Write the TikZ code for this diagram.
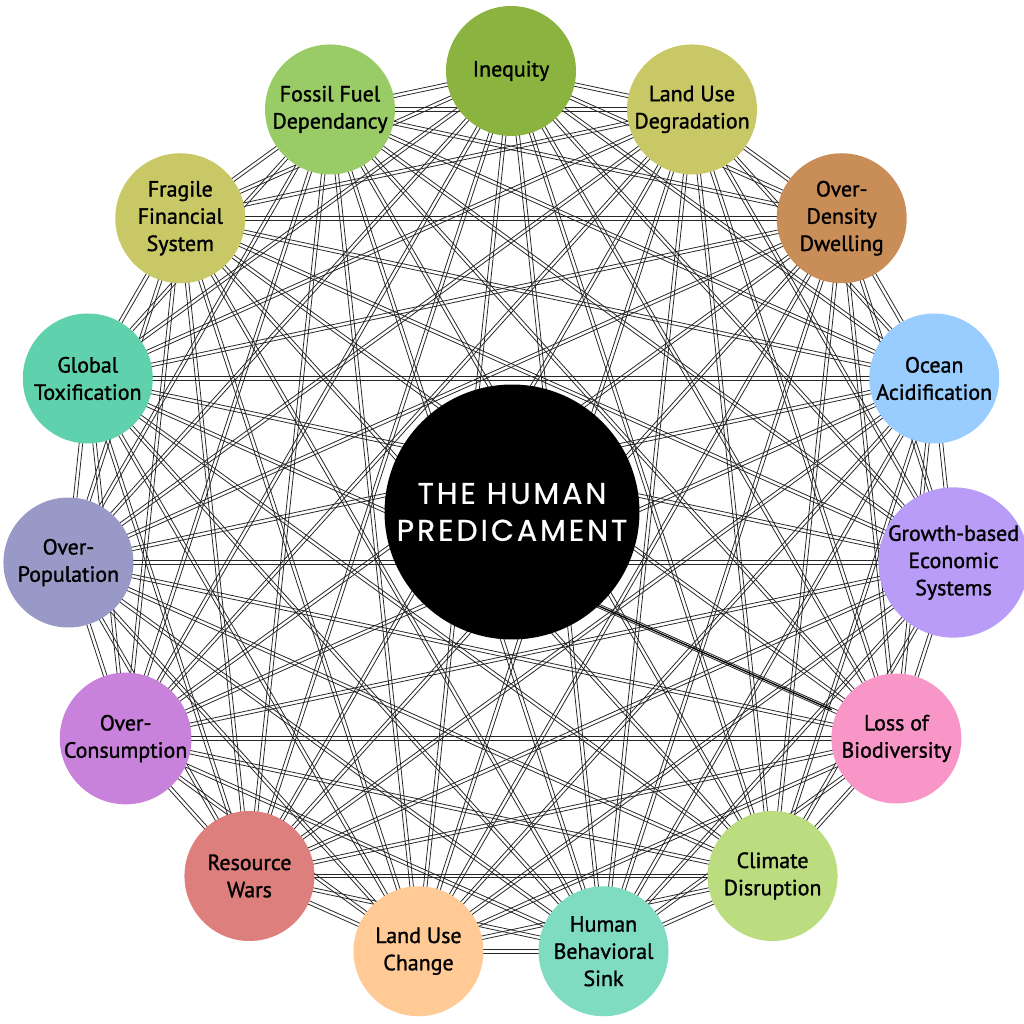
\documentclass[tikz,border=0pt]{standalone}
\usepackage{fontspec}
\setmainfont[FakeBold=1.3]{PT Sans}
\newfontfamily\titlefont[LetterSpace=10,FakeBold=0.8]{Poppins}
\usepackage{tikz}
\usetikzlibrary{calc,backgrounds}

\definecolor{cineq}{HTML}{8AB43F}
\definecolor{cdegr}{HTML}{C8C866}
\definecolor{cdens}{HTML}{C98E58}
\definecolor{cocean}{HTML}{99CCFF}
\definecolor{cgrowth}{HTML}{B99CF7}
\definecolor{closs}{HTML}{F896C8}
\definecolor{cclim}{HTML}{BBDD80}
\definecolor{csink}{HTML}{7FDCC0}
\definecolor{cchange}{HTML}{FFCA96}
\definecolor{cwars}{HTML}{DD7F7D}
\definecolor{ccons}{HTML}{C882DC}
\definecolor{cpop}{HTML}{9999C8}
\definecolor{ctox}{HTML}{5FD1AD}
\definecolor{cfin}{HTML}{C8C866}
\definecolor{cfuel}{HTML}{99CC66}

\begin{document}
\begin{tikzpicture}[
        x=0.02cm, y=0.02cm,
        issue/.style={circle, minimum size=2.6cm, inner sep=0pt, align=center,
            font=\fontsize{12.5}{15.5}\selectfont},
        hub/.style={circle, fill=black, minimum size=5.1cm, inner sep=0pt, align=center,
            text=white, font=\titlefont\fontsize{17}{21}\selectfont},
        wire/.style={draw=black!85, line width=0.45pt}
    ]
        \useasboundingbox (0,0) rectangle (1024,1024);
        \coordinate (ring) at (511,508);

        % Centre
        \node[hub] (hub) at (512,512) {THE HUMAN\\PREDICAMENT};

        % Issues
        \node[issue, fill=cineq]   (v1)  at ($(ring)+(90:445)$)   {Inequity};
        \node[issue, fill=cdegr]   (v2)  at ($(ring)+(66:445)$)   {Land Use\\Degradation};
        \node[issue, fill=cdens]   (v3)  at ($(ring)+(42:445)$)   {Over-\\Density\\Dwelling};
        \node[issue, fill=cocean]  (v4)  at ($(ring)+(18:445)$)   {Ocean\\Acidification};
        \node[issue, fill=cgrowth] (v5)  at ($(ring)+(-6:445)$)   {Growth-based\\Economic\\Systems};
        \node[issue, fill=closs]   (v6)  at ($(ring)+(-30:445)$)  {Loss of\\Biodiversity};
        \node[issue, fill=cclim]   (v7)  at ($(ring)+(-54:445)$)  {Climate\\Disruption};
        \node[issue, fill=csink]   (v8)  at ($(ring)+(-78:445)$)  {Human\\Behavioral\\Sink};
        \node[issue, fill=cchange] (v9)  at ($(ring)+(-102:445)$) {Land Use\\Change};
        \node[issue, fill=cwars]   (v10) at ($(ring)+(-126:445)$) {Resource\\Wars};
        \node[issue, fill=ccons]   (v11) at ($(ring)+(-150:445)$) {Over-\\Consumption};
        \node[issue, fill=cpop]    (v12) at ($(ring)+(-174:445)$) {Over-\\Population};
        \node[issue, fill=ctox]    (v13) at ($(ring)+(162:445)$)  {Global\\Toxification};
        \node[issue, fill=cfin]    (v14) at ($(ring)+(138:445)$)  {Fragile\\Financial\\System};
        \node[issue, fill=cfuel]   (v15) at ($(ring)+(114:445)$)  {Fossil Fuel\\Dependancy};

        % Links, every pair, as twin lines
        \begin{scope}[on background layer]
            \foreach \i in {1,...,15} {
                \foreach \j in {1,...,15} {
                    \ifnum\i<\j
                        \draw[wire] ($(v\i)!1pt!90:(v\j)$) -- ($(v\j)!1pt!-90:(v\i)$);
                        \draw[wire] ($(v\i)!1pt!-90:(v\j)$) -- ($(v\j)!1pt!90:(v\i)$);
                    \fi
                }
            }
            \coordinate (darkA) at ($(v13)!0.55!(v6)$);
            \coordinate (darkB) at ($(v13)!0.92!(v6)$);
            \draw[line width=0.75pt] (darkA) -- (darkB);
        \end{scope}
    \end{tikzpicture}
\end{document}
